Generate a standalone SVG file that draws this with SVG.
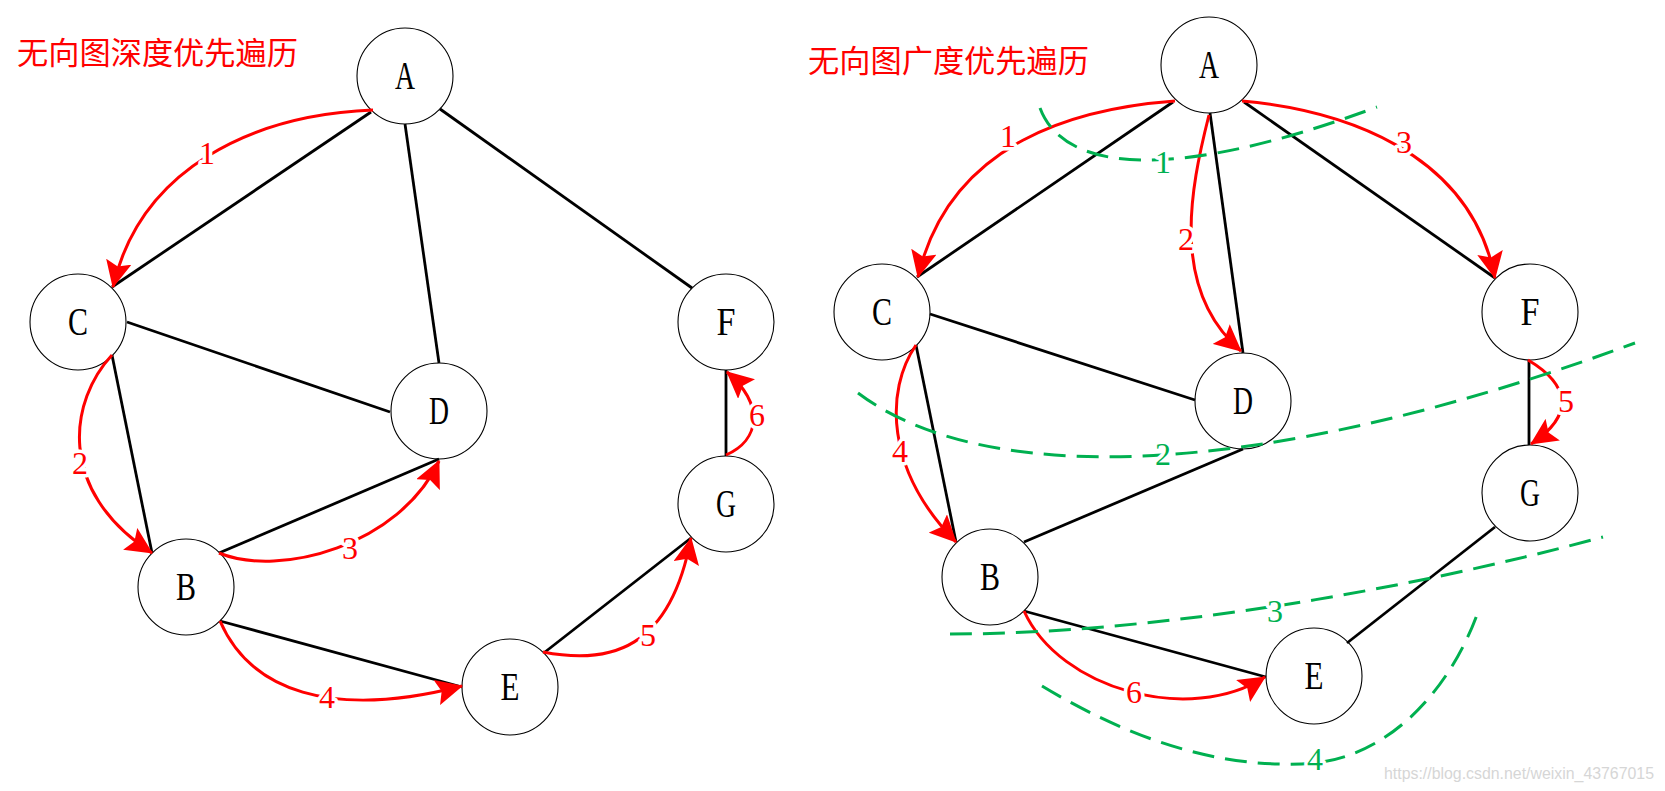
<svg xmlns="http://www.w3.org/2000/svg" width="1665" height="791" viewBox="0 0 1665 791">
<style>
.title{font-family:"Noto Sans CJK SC","Noto Sans",sans-serif;font-size:31px;fill:#ff0000}
.node circle{fill:#ffffff;stroke:#000000;stroke-width:1.1}
.node text{font-family:"Liberation Serif",serif;font-size:40px;fill:#000000;text-anchor:middle}
.edge{stroke:#000000;stroke-width:2.8;fill:none}
.arc{stroke:#ff0000;stroke-width:3;fill:none;marker-end:url(#ah)}
.lbl{font-family:"Liberation Serif",serif;font-size:32px;fill:#ff0000;text-anchor:middle;stroke:#ffffff;stroke-width:7;paint-order:stroke;stroke-linejoin:round}
.lvl{stroke:#00b050;stroke-width:3;fill:none;stroke-dasharray:22 11}
.glbl{font-family:"Liberation Serif",serif;font-size:32px;fill:#00b050;text-anchor:middle;stroke:#ffffff;stroke-width:7;paint-order:stroke;stroke-linejoin:round}
.wm{font-family:"Liberation Sans",Arial,sans-serif;font-size:16px;fill:#d6d6d6}
</style>
<defs>
<marker id="ah" markerUnits="userSpaceOnUse" markerWidth="28" markerHeight="26" refX="26" refY="13" orient="auto">
<path d="M0,0 L27,13 L0,26 L5,13 Z" fill="#ff0000"/>
</marker>
</defs>
<rect width="1665" height="791" fill="#ffffff"/>
<text class="title" x="17" y="64" textLength="281" lengthAdjust="spacingAndGlyphs">无向图深度优先遍历</text>
<text class="title" x="808" y="72" textLength="281" lengthAdjust="spacingAndGlyphs">无向图广度优先遍历</text>

<g id="left-nodes">
<g id="L-A" class="node"><circle cx="405" cy="76" r="48"/><text x="405" y="89" textLength="20" lengthAdjust="spacingAndGlyphs">A</text></g>
<g id="L-C" class="node"><circle cx="78" cy="322" r="48"/><text x="78" y="335" textLength="20" lengthAdjust="spacingAndGlyphs">C</text></g>
<g id="L-D" class="node"><circle cx="439" cy="411" r="48"/><text x="439" y="424" textLength="20" lengthAdjust="spacingAndGlyphs">D</text></g>
<g id="L-F" class="node"><circle cx="726" cy="322" r="48"/><text x="726" y="335" textLength="19" lengthAdjust="spacingAndGlyphs">F</text></g>
<g id="L-G" class="node"><circle cx="726" cy="504" r="48"/><text x="726" y="517" textLength="20" lengthAdjust="spacingAndGlyphs">G</text></g>
<g id="L-B" class="node"><circle cx="186" cy="587" r="48"/><text x="186" y="600" textLength="20" lengthAdjust="spacingAndGlyphs">B</text></g>
<g id="L-E" class="node"><circle cx="510" cy="687" r="48"/><text x="510" y="700" textLength="19" lengthAdjust="spacingAndGlyphs">E</text></g>
</g>

<g id="right-nodes">
<g id="R-A" class="node"><circle cx="1209" cy="65" r="48"/><text x="1209" y="78" textLength="20" lengthAdjust="spacingAndGlyphs">A</text></g>
<g id="R-C" class="node"><circle cx="882" cy="312" r="48"/><text x="882" y="325" textLength="20" lengthAdjust="spacingAndGlyphs">C</text></g>
<g id="R-D" class="node"><circle cx="1243" cy="401" r="48"/><text x="1243" y="414" textLength="20" lengthAdjust="spacingAndGlyphs">D</text></g>
<g id="R-F" class="node"><circle cx="1530" cy="312" r="48"/><text x="1530" y="325" textLength="19" lengthAdjust="spacingAndGlyphs">F</text></g>
<g id="R-G" class="node"><circle cx="1530" cy="493" r="48"/><text x="1530" y="506" textLength="20" lengthAdjust="spacingAndGlyphs">G</text></g>
<g id="R-B" class="node"><circle cx="990" cy="577" r="48"/><text x="990" y="590" textLength="20" lengthAdjust="spacingAndGlyphs">B</text></g>
<g id="R-E" class="node"><circle cx="1314" cy="676" r="48"/><text x="1314" y="689" textLength="19" lengthAdjust="spacingAndGlyphs">E</text></g>
</g>

<g id="connectors">
<g id="edges">
<line class="edge" x1="371" y1="112" x2="112" y2="287"/>
<line class="edge" x1="405" y1="124" x2="439" y2="363"/>
<line class="edge" x1="440" y1="109" x2="692" y2="288"/>
<line class="edge" x1="127" y1="322" x2="390" y2="412"/>
<line class="edge" x1="112" y1="355" x2="152" y2="553"/>
<line class="edge" x1="219" y1="553" x2="439" y2="459"/>
<line class="edge" x1="220" y1="621" x2="462" y2="687"/>
<line class="edge" x1="545" y1="652" x2="691" y2="538"/>
<line class="edge" x1="726" y1="370" x2="726" y2="456"/>

<line class="edge" x1="1173" y1="102" x2="917" y2="277"/>
<line class="edge" x1="1210" y1="113" x2="1243" y2="353"/>
<line class="edge" x1="1244" y1="102" x2="1495" y2="278"/>
<line class="edge" x1="930" y1="314" x2="1195" y2="400"/>
<line class="edge" x1="916" y1="345" x2="956" y2="542"/>
<line class="edge" x1="1024" y1="542" x2="1243" y2="449"/>
<line class="edge" x1="1024" y1="611" x2="1266" y2="677"/>
<line class="edge" x1="1347" y1="643" x2="1495" y2="527"/>
<line class="edge" x1="1529" y1="360" x2="1529" y2="445"/>
</g>

<g id="dfs-arrows">
<path class="arc" d="M373,110 C250,115 140,170 113,287"/>
<path class="arc" d="M112,355 C70,400 55,490 152,553"/>
<path class="arc" d="M219,553 C280,578 400,545 439,461"/>
<path class="arc" d="M220,621 C250,690 330,720 462,686"/>
<path class="arc" d="M543,652 C610,665 670,650 691,538"/>
<path class="arc" d="M726,455 C760,440 765,405 727,372"/>
<text class="lbl" x="207" y="164">1</text>
<text class="lbl" x="80" y="474">2</text>
<text class="lbl" x="350" y="559">3</text>
<text class="lbl" x="327" y="708">4</text>
<text class="lbl" x="648" y="646">5</text>
<text class="lbl" x="757" y="426">6</text>
</g>

<g id="bfs-arrows">
<path class="arc" d="M1175,101 C1080,108 950,140 918,277"/>
<path class="arc" d="M1209,115 C1190,190 1170,290 1241,351"/>
<path class="arc" d="M1242,101 C1340,110 1470,150 1495,278"/>
<path class="arc" d="M916,345 C885,390 885,470 956,542"/>
<path class="arc" d="M1528,360 C1570,385 1575,415 1531,444"/>
<path class="arc" d="M1024,611 C1060,690 1190,725 1265,677"/>
<text class="lbl" x="1008" y="147">1</text>
<text class="lbl" x="1186" y="250">2</text>
<text class="lbl" x="1404" y="153">3</text>
<text class="lbl" x="900" y="462">4</text>
<text class="lbl" x="1566" y="412">5</text>
<text class="lbl" x="1134" y="703">6</text>
</g>

<g id="levels">
<path class="lvl" d="M1040,108 C1065,175 1180,180 1377,107"/>
<path class="lvl" d="M858,393 C980,485 1250,485 1635,343"/>
<path class="lvl" d="M950,634 C1150,634 1400,592 1603,537"/>
<path class="lvl" d="M1042,686 C1140,745 1230,770 1315,763 C1390,755 1450,690 1478,612"/>
<text class="glbl" x="1163" y="173">1</text>
<text class="glbl" x="1163" y="465">2</text>
<text class="glbl" x="1275" y="622">3</text>
<text class="glbl" x="1315" y="770">4</text>
</g>
</g>

<text class="wm" x="1384" y="779" textLength="270" lengthAdjust="spacingAndGlyphs">https://blog.csdn.net/weixin_43767015</text>
</svg>
